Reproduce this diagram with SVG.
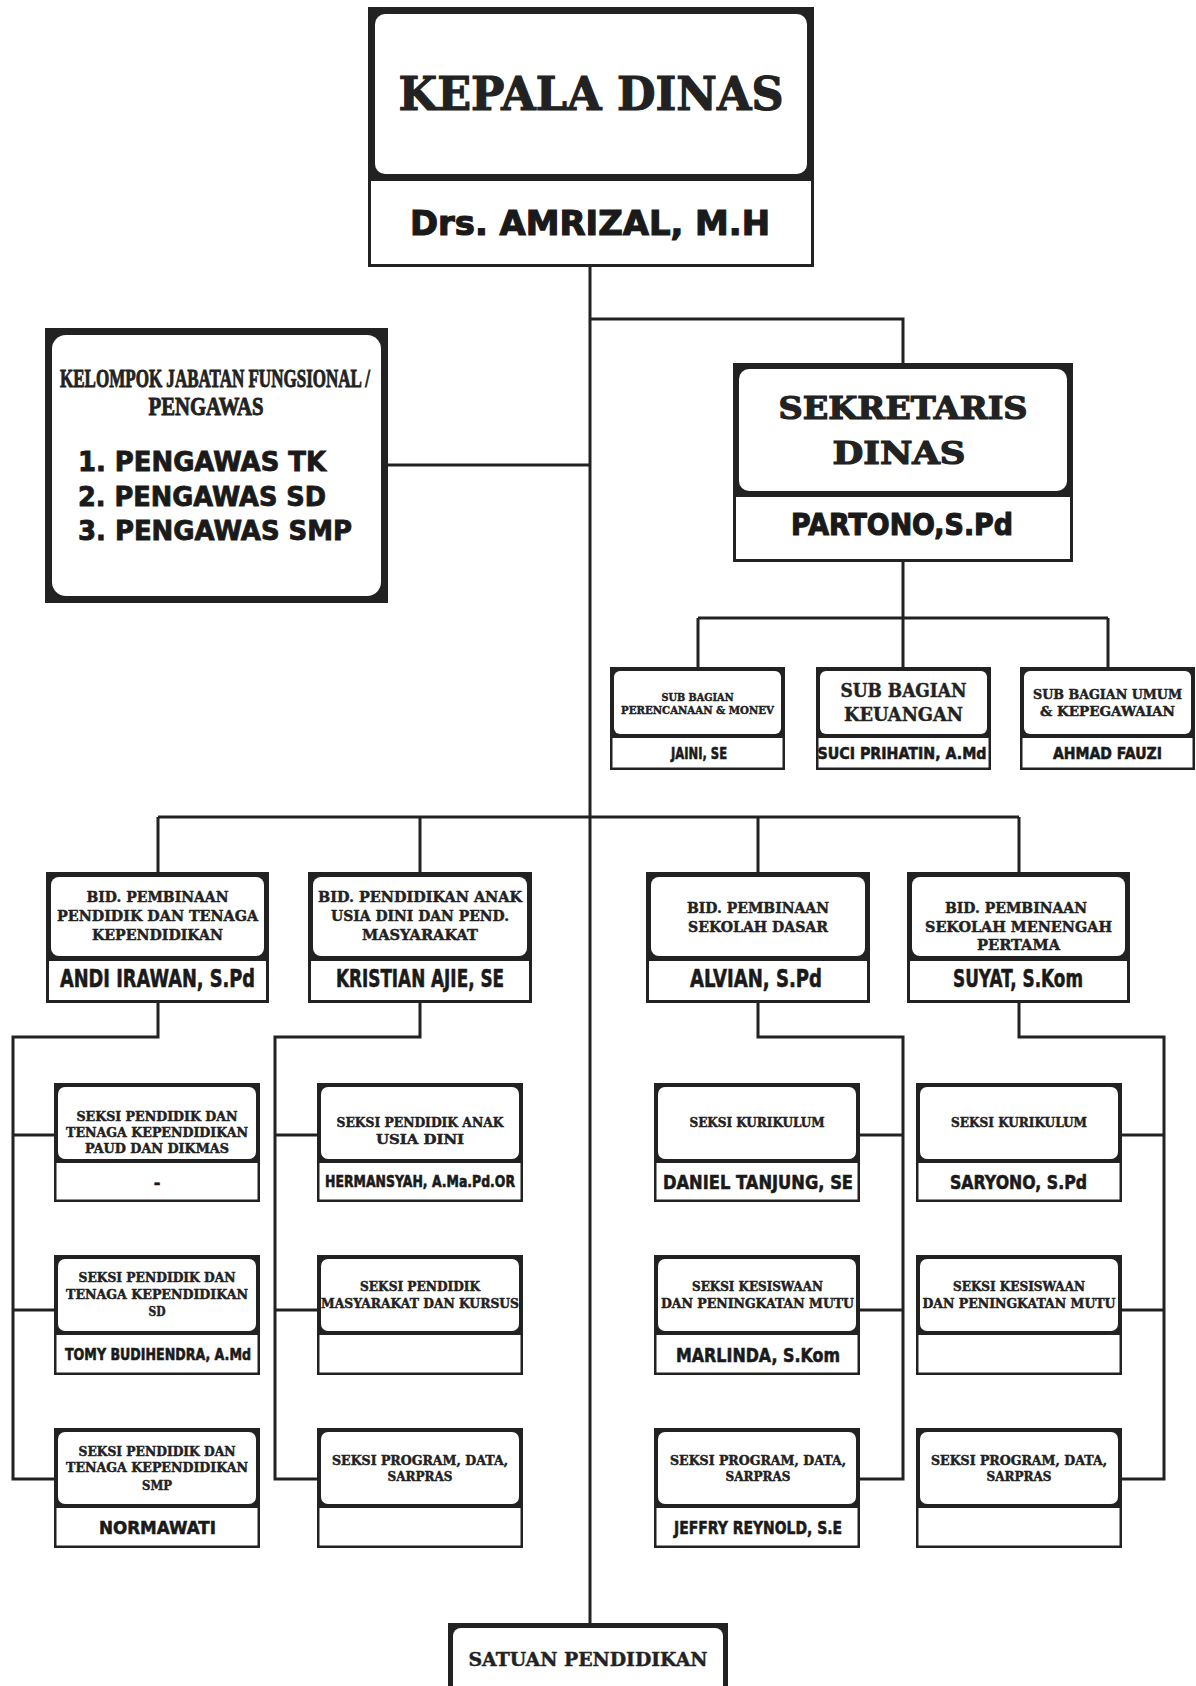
<svg xmlns="http://www.w3.org/2000/svg" width="1196" height="1686" viewBox="0 0 1196 1686">
<style>
.bg{fill:#fff}
.frame{fill:#222}
.inner{fill:#fff}
.name{fill:#fff;stroke:#222}
.conn path{fill:none;stroke:#222;stroke-width:3}
.h{font-family:"DejaVu Serif","Liberation Serif",serif;font-weight:bold;text-anchor:middle;fill:#222;stroke:#222;stroke-width:0.45}
.n{font-family:"DejaVu Sans","Liberation Sans",sans-serif;font-weight:bold;text-anchor:middle;fill:#1a1a1a;stroke:#1a1a1a;stroke-width:0.6}
.c{font-family:"Liberation Serif",serif;font-weight:bold;text-anchor:middle;fill:#222;stroke:#222;stroke-width:0.9}
.l{font-family:"DejaVu Sans","Liberation Sans",sans-serif;font-weight:bold;fill:#1a1a1a;stroke:#1a1a1a;stroke-width:0.9}
.big{stroke-width:1.2}
.bt{font-size:14px}
.st{font-size:12px}
.bn{font-size:24px}
</style>
<rect class="bg" x="0" y="0" width="1196" height="1686"/>

<g class="conn" id="connectors">
<path d="M590 267 V1623"/>
<path d="M388 465 H590"/>
<path d="M590 319 H903 V363"/>
<path d="M903 562 V618"/>
<path d="M698 618 H1108 M698 618 V667 M903 618 V667 M1108 618 V667"/>
<path d="M158 817 H1019 M158 817 V872 M420 817 V872 M758 817 V872 M1019 817 V872"/>
<path d="M158 1003 V1037 H13 V1479 H54 M13 1135 H54 M13 1310 H54"/>
<path d="M420 1003 V1037 H275 V1479 H317 M275 1135 H317 M275 1310 H317"/>
<path d="M758 1003 V1037 H903 V1479 H860 M903 1135 H860 M903 1310 H860"/>
<path d="M1019 1003 V1037 H1164 V1479 H1122 M1164 1135 H1122 M1164 1310 H1122"/>
</g>

<g id="kepala-dinas">
<rect class="name" x="369.5" y="179" width="443" height="86.5" stroke-width="3"/>
<rect class="frame" x="368" y="7" width="446" height="174"/>
<rect class="inner" x="375" y="14" width="432" height="160" rx="10"/>
<text class="h big" x="591" y="110" font-size="47" textLength="385" lengthAdjust="spacingAndGlyphs">KEPALA DINAS</text>
<text class="n big" x="590" y="235" font-size="34" textLength="360" lengthAdjust="spacingAndGlyphs">Drs. AMRIZAL, M.H</text>
</g>

<g id="kelompok-fungsional">
<rect class="frame" x="45" y="328" width="343" height="275"/>
<rect class="inner" x="52" y="335" width="329" height="261" rx="14"/>
<text class="c" x="215" y="387" font-size="25" textLength="310" lengthAdjust="spacingAndGlyphs">KELOMPOK JABATAN FUNGSIONAL /</text>
<text class="c" x="206" y="415" font-size="25" textLength="115" lengthAdjust="spacingAndGlyphs">PENGAWAS</text>
<text class="l" x="78" y="471" font-size="27" textLength="248" lengthAdjust="spacingAndGlyphs">1. PENGAWAS TK</text>
<text class="l" x="78" y="506" font-size="27" textLength="248" lengthAdjust="spacingAndGlyphs">2. PENGAWAS SD</text>
<text class="l" x="78" y="540" font-size="27" textLength="274" lengthAdjust="spacingAndGlyphs">3. PENGAWAS SMP</text>
</g>

<g id="sekretaris-dinas">
<rect class="name" x="734.5" y="495" width="337" height="65.5" stroke-width="3"/>
<rect class="frame" x="733" y="363" width="340" height="134"/>
<rect class="inner" x="739" y="369" width="328" height="122" rx="10"/>
<text class="h big" x="903" y="419" font-size="31" textLength="249" lengthAdjust="spacingAndGlyphs">SEKRETARIS</text>
<text class="h big" x="899" y="464" font-size="31" textLength="133" lengthAdjust="spacingAndGlyphs">DINAS</text>
<text class="n big" x="902" y="535" font-size="30" textLength="222" lengthAdjust="spacingAndGlyphs">PARTONO,S.Pd</text>
</g>

<g id="sub-perencanaan">
<rect class="name" x="611.25" y="736" width="172.5" height="32.75" stroke-width="2.5"/>
<rect class="frame" x="610" y="667" width="175" height="71"/>
<rect class="inner" x="614" y="671" width="167" height="63" rx="6"/>
<text class="h" x="697.5" y="701" font-size="11" textLength="72" lengthAdjust="spacingAndGlyphs">SUB BAGIAN</text>
<text class="h" x="697.5" y="714" font-size="11" textLength="153" lengthAdjust="spacingAndGlyphs">PERENCANAAN &amp; MONEV</text>
<text class="n" x="699" y="759" font-size="16" textLength="56" lengthAdjust="spacingAndGlyphs">JAINI, SE</text>
</g>

<g id="sub-keuangan">
<rect class="name" x="817.25" y="736" width="172.5" height="32.75" stroke-width="2.5"/>
<rect class="frame" x="816" y="667" width="175" height="71"/>
<rect class="inner" x="820" y="671" width="167" height="63" rx="6"/>
<text class="h" x="903.5" y="697" font-size="18" textLength="126" lengthAdjust="spacingAndGlyphs">SUB BAGIAN</text>
<text class="h" x="903.5" y="721" font-size="18" textLength="119" lengthAdjust="spacingAndGlyphs">KEUANGAN</text>
<text class="n" x="902" y="759" font-size="16" textLength="169" lengthAdjust="spacingAndGlyphs">SUCI PRIHATIN, A.Md</text>
</g>

<g id="sub-umum">
<rect class="name" x="1021.25" y="736" width="172.5" height="32.75" stroke-width="2.5"/>
<rect class="frame" x="1020" y="667" width="175" height="71"/>
<rect class="inner" x="1024" y="671" width="167" height="63" rx="6"/>
<text class="h" x="1107.5" y="699" font-size="13" textLength="149" lengthAdjust="spacingAndGlyphs">SUB BAGIAN UMUM</text>
<text class="h" x="1107.5" y="716" font-size="13" textLength="135" lengthAdjust="spacingAndGlyphs">&amp; KEPEGAWAIAN</text>
<text class="n" x="1107.5" y="759" font-size="16" textLength="109" lengthAdjust="spacingAndGlyphs">AHMAD FAUZI</text>
</g>

<g id="bid-ptk">
<rect class="name" x="47.5" y="959" width="220" height="42.5" stroke-width="3"/>
<rect class="frame" x="46" y="872" width="223" height="89"/>
<rect class="inner" x="51" y="877" width="213" height="79" rx="8"/>
<text class="h bt" x="157.5" y="902" textLength="142" lengthAdjust="spacingAndGlyphs">BID. PEMBINAAN</text>
<text class="h bt" x="157.5" y="921" textLength="201" lengthAdjust="spacingAndGlyphs">PENDIDIK DAN TENAGA</text>
<text class="h bt" x="157.5" y="940" textLength="131" lengthAdjust="spacingAndGlyphs">KEPENDIDIKAN</text>
<text class="n bn" x="157.5" y="987" textLength="195" lengthAdjust="spacingAndGlyphs">ANDI IRAWAN, S.Pd</text>
</g>

<g id="bid-paud">
<rect class="name" x="309.5" y="959" width="221" height="42.5" stroke-width="3"/>
<rect class="frame" x="308" y="872" width="224" height="89"/>
<rect class="inner" x="313" y="877" width="214" height="79" rx="8"/>
<text class="h bt" x="420" y="902" textLength="204" lengthAdjust="spacingAndGlyphs">BID. PENDIDIKAN ANAK</text>
<text class="h bt" x="420" y="921" textLength="178" lengthAdjust="spacingAndGlyphs">USIA DINI DAN PEND.</text>
<text class="h bt" x="420" y="940" textLength="116" lengthAdjust="spacingAndGlyphs">MASYARAKAT</text>
<text class="n bn" x="420" y="987" textLength="168" lengthAdjust="spacingAndGlyphs">KRISTIAN AJIE, SE</text>
</g>

<g id="bid-sd">
<rect class="name" x="647.5" y="959" width="221" height="42.5" stroke-width="3"/>
<rect class="frame" x="646" y="872" width="224" height="89"/>
<rect class="inner" x="651" y="877" width="214" height="79" rx="8"/>
<text class="h bt" x="758" y="913" textLength="142" lengthAdjust="spacingAndGlyphs">BID. PEMBINAAN</text>
<text class="h bt" x="758" y="932" textLength="140" lengthAdjust="spacingAndGlyphs">SEKOLAH DASAR</text>
<text class="n bn" x="756" y="987" textLength="132" lengthAdjust="spacingAndGlyphs">ALVIAN, S.Pd</text>
</g>

<g id="bid-smp">
<rect class="name" x="908.5" y="959" width="220" height="42.5" stroke-width="3"/>
<rect class="frame" x="907" y="872" width="223" height="89"/>
<rect class="inner" x="912" y="877" width="213" height="79" rx="8"/>
<text class="h bt" x="1016" y="913" textLength="142" lengthAdjust="spacingAndGlyphs">BID. PEMBINAAN</text>
<text class="h bt" x="1018.5" y="932" textLength="187" lengthAdjust="spacingAndGlyphs">SEKOLAH MENENGAH</text>
<text class="h bt" x="1018.5" y="950" textLength="83" lengthAdjust="spacingAndGlyphs">PERTAMA</text>
<text class="n bn" x="1018" y="987" textLength="130" lengthAdjust="spacingAndGlyphs">SUYAT, S.Kom</text>
</g>

<!-- Seksi row 1 -->
<g id="seksi-ptk-paud">
<rect class="name" x="55.25" y="1160" width="203.5" height="40.75" stroke-width="2.5"/>
<rect class="frame" x="54" y="1083" width="206" height="80"/>
<rect class="inner" x="58" y="1087" width="198" height="72" rx="7"/>
<text class="h st" x="157" y="1121" textLength="161" lengthAdjust="spacingAndGlyphs">SEKSI PENDIDIK DAN</text>
<text class="h st" x="157" y="1137" textLength="182" lengthAdjust="spacingAndGlyphs">TENAGA KEPENDIDIKAN</text>
<text class="h st" x="157" y="1153" textLength="144" lengthAdjust="spacingAndGlyphs">PAUD DAN DIKMAS</text>
<text class="n" x="157" y="1188" font-size="16">-</text>
</g>
<g id="seksi-paud">
<rect class="name" x="318.25" y="1160" width="203.5" height="40.75" stroke-width="2.5"/>
<rect class="frame" x="317" y="1083" width="206" height="80"/>
<rect class="inner" x="321" y="1087" width="198" height="72" rx="7"/>
<text class="h st" x="420" y="1127" textLength="167" lengthAdjust="spacingAndGlyphs">SEKSI PENDIDIK ANAK</text>
<text class="h st" x="420" y="1144" textLength="88" lengthAdjust="spacingAndGlyphs">USIA DINI</text>
<text class="n" x="420" y="1187" font-size="15" textLength="190" lengthAdjust="spacingAndGlyphs">HERMANSYAH, A.Ma.Pd.OR</text>
</g>
<g id="seksi-kurikulum-sd">
<rect class="name" x="655.25" y="1160" width="203.5" height="40.75" stroke-width="2.5"/>
<rect class="frame" x="654" y="1083" width="206" height="80"/>
<rect class="inner" x="658" y="1087" width="198" height="72" rx="7"/>
<text class="h st" x="757" y="1127" textLength="135" lengthAdjust="spacingAndGlyphs">SEKSI KURIKULUM</text>
<text class="n" x="758" y="1189" font-size="19" textLength="190" lengthAdjust="spacingAndGlyphs">DANIEL TANJUNG, SE</text>
</g>
<g id="seksi-kurikulum-smp">
<rect class="name" x="917.25" y="1160" width="203.5" height="40.75" stroke-width="2.5"/>
<rect class="frame" x="916" y="1083" width="206" height="80"/>
<rect class="inner" x="920" y="1087" width="198" height="72" rx="7"/>
<text class="h st" x="1019" y="1127" textLength="136" lengthAdjust="spacingAndGlyphs">SEKSI KURIKULUM</text>
<text class="n" x="1018.5" y="1189" font-size="19" textLength="137" lengthAdjust="spacingAndGlyphs">SARYONO, S.Pd</text>
</g>

<!-- Seksi row 2 -->
<g id="seksi-ptk-sd">
<rect class="name" x="55.25" y="1332" width="203.5" height="41.75" stroke-width="2.5"/>
<rect class="frame" x="54" y="1255" width="206" height="80"/>
<rect class="inner" x="58" y="1259" width="198" height="72" rx="7"/>
<text class="h st" x="157" y="1282" textLength="157" lengthAdjust="spacingAndGlyphs">SEKSI PENDIDIK DAN</text>
<text class="h st" x="157" y="1299" textLength="182" lengthAdjust="spacingAndGlyphs">TENAGA KEPENDIDIKAN</text>
<text class="h st" x="157" y="1316" textLength="17" lengthAdjust="spacingAndGlyphs">SD</text>
<text class="n" x="158" y="1360" font-size="15" textLength="186" lengthAdjust="spacingAndGlyphs">TOMY BUDIHENDRA, A.Md</text>
</g>
<g id="seksi-masyarakat">
<rect class="name" x="318.25" y="1332" width="203.5" height="41.75" stroke-width="2.5"/>
<rect class="frame" x="317" y="1255" width="206" height="80"/>
<rect class="inner" x="321" y="1259" width="198" height="72" rx="7"/>
<text class="h st" x="420" y="1291" textLength="120" lengthAdjust="spacingAndGlyphs">SEKSI PENDIDIK</text>
<text class="h st" x="420" y="1308" textLength="198" lengthAdjust="spacingAndGlyphs">MASYARAKAT DAN KURSUS</text>
</g>
<g id="seksi-kesiswaan-sd">
<rect class="name" x="655.25" y="1332" width="203.5" height="41.75" stroke-width="2.5"/>
<rect class="frame" x="654" y="1255" width="206" height="80"/>
<rect class="inner" x="658" y="1259" width="198" height="72" rx="7"/>
<text class="h st" x="757.5" y="1291" textLength="131" lengthAdjust="spacingAndGlyphs">SEKSI KESISWAAN</text>
<text class="h st" x="757.5" y="1308" textLength="193" lengthAdjust="spacingAndGlyphs">DAN PENINGKATAN MUTU</text>
<text class="n" x="758" y="1362" font-size="19" textLength="164" lengthAdjust="spacingAndGlyphs">MARLINDA, S.Kom</text>
</g>
<g id="seksi-kesiswaan-smp">
<rect class="name" x="917.25" y="1332" width="203.5" height="41.75" stroke-width="2.5"/>
<rect class="frame" x="916" y="1255" width="206" height="80"/>
<rect class="inner" x="920" y="1259" width="198" height="72" rx="7"/>
<text class="h st" x="1019" y="1291" textLength="132" lengthAdjust="spacingAndGlyphs">SEKSI KESISWAAN</text>
<text class="h st" x="1019" y="1308" textLength="193" lengthAdjust="spacingAndGlyphs">DAN PENINGKATAN MUTU</text>
</g>

<!-- Seksi row 3 -->
<g id="seksi-ptk-smp">
<rect class="name" x="55.25" y="1506" width="203.5" height="40.75" stroke-width="2.5"/>
<rect class="frame" x="54" y="1428" width="206" height="80"/>
<rect class="inner" x="58" y="1432" width="198" height="72" rx="7"/>
<text class="h st" x="157" y="1456" textLength="157" lengthAdjust="spacingAndGlyphs">SEKSI PENDIDIK DAN</text>
<text class="h st" x="157" y="1472" textLength="182" lengthAdjust="spacingAndGlyphs">TENAGA KEPENDIDIKAN</text>
<text class="h st" x="157" y="1490" textLength="30" lengthAdjust="spacingAndGlyphs">SMP</text>
<text class="n" x="157.5" y="1534" font-size="18" textLength="117" lengthAdjust="spacingAndGlyphs">NORMAWATI</text>
</g>
<g id="seksi-program-paud">
<rect class="name" x="318.25" y="1506" width="203.5" height="40.75" stroke-width="2.5"/>
<rect class="frame" x="317" y="1428" width="206" height="80"/>
<rect class="inner" x="321" y="1432" width="198" height="72" rx="7"/>
<text class="h st" x="420" y="1465" textLength="176" lengthAdjust="spacingAndGlyphs">SEKSI PROGRAM, DATA,</text>
<text class="h st" x="420" y="1481" textLength="65" lengthAdjust="spacingAndGlyphs">SARPRAS</text>
</g>
<g id="seksi-program-sd">
<rect class="name" x="655.25" y="1506" width="203.5" height="40.75" stroke-width="2.5"/>
<rect class="frame" x="654" y="1428" width="206" height="80"/>
<rect class="inner" x="658" y="1432" width="198" height="72" rx="7"/>
<text class="h st" x="758" y="1465" textLength="176" lengthAdjust="spacingAndGlyphs">SEKSI PROGRAM, DATA,</text>
<text class="h st" x="758" y="1481" textLength="65" lengthAdjust="spacingAndGlyphs">SARPRAS</text>
<text class="n" x="758" y="1534" font-size="18" textLength="168" lengthAdjust="spacingAndGlyphs">JEFFRY REYNOLD, S.E</text>
</g>
<g id="seksi-program-smp">
<rect class="name" x="917.25" y="1506" width="203.5" height="40.75" stroke-width="2.5"/>
<rect class="frame" x="916" y="1428" width="206" height="80"/>
<rect class="inner" x="920" y="1432" width="198" height="72" rx="7"/>
<text class="h st" x="1019" y="1465" textLength="176" lengthAdjust="spacingAndGlyphs">SEKSI PROGRAM, DATA,</text>
<text class="h st" x="1019" y="1481" textLength="65" lengthAdjust="spacingAndGlyphs">SARPRAS</text>
</g>

<g id="satuan-pendidikan">
<rect class="frame" x="448" y="1623" width="280" height="80"/>
<rect class="inner" x="453" y="1628" width="270" height="70" rx="8"/>
<text class="h" x="588" y="1666" font-size="19" textLength="239" lengthAdjust="spacingAndGlyphs">SATUAN PENDIDIKAN</text>
</g>
</svg>
